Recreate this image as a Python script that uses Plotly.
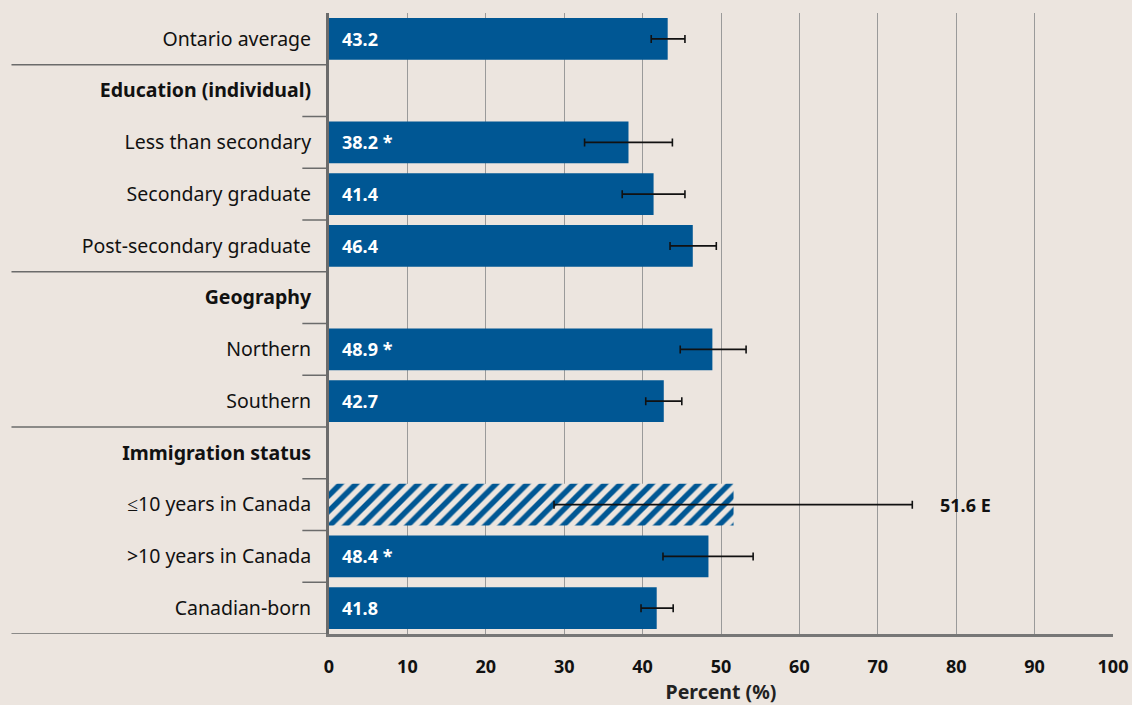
import plotly.graph_objects as go

# ---- data ----
categories = ["Ontario average", "Education (individual)", "Less than secondary",
              "Secondary graduate", "Post-secondary graduate", "Geography",
              "Northern", "Southern", "Immigration status",
              "≤10 years in Canada", ">10 years in Canada", "Canadian-born"]
is_header = [False, True, False, False, False, True, False, False, True, False, False, False]
values = [43.2, None, 38.2, 41.4, 46.4, None, 48.9, 42.7, None, 51.6, 48.4, 41.8]
ci_low = [41.1, None, 32.6, 37.4, 43.5, None, 44.8, 40.4, None, 28.7, 42.6, 39.8]
ci_high = [45.4, None, 43.8, 45.4, 49.4, None, 53.2, 45.0, None, 74.4, 54.1, 43.9]
flags = ["", None, " *", "", "", None, " *", "", None, " E", " *", ""]
hatched = [False, None, False, False, False, None, False, False, None, True, False, False]
x_ticks = [0, 10, 20, 30, 40, 50, 60, 70, 80, 90, 100]

BG = "#ECE5DF"
BLUE = "#005794"
FONT = "Noto Sans"

idx = [i for i, v in enumerate(values) if v is not None]
ys = idx
xs = [values[i] for i in idx]
err_plus = [ci_high[i] - values[i] for i in idx]
err_minus = [values[i] - ci_low[i] for i in idx]
shapes_pat = ["/" if hatched[i] else "" for i in idx]

fig = go.Figure()
fig.add_trace(go.Bar(
    x=xs, y=ys, orientation="h", width=0.81,
    marker=dict(color=BLUE, line=dict(width=0),
                pattern=dict(shape=shapes_pat, fgcolor=BLUE, bgcolor=BG, fgopacity=1,
                             size=11, solidity=0.5)),
    error_x=dict(type="data", array=err_plus, arrayminus=err_minus,
                 color="#111111", thickness=1.6, width=4),
    hoverinfo="skip", showlegend=False,
))

annotations = []
for i in idx:
    label = f"{values[i]:.1f}{flags[i]}"
    if hatched[i]:
        annotations.append(dict(x=ci_high[i], y=i, xref="x", yref="y", text=f"<b>{label}</b>",
                                showarrow=False, xanchor="left", xshift=26,
                                font=dict(family=FONT, size=18, color="#111111")))
    else:
        annotations.append(dict(x=0, y=i, xref="x", yref="y", text=f"<b>{label}</b>",
                                showarrow=False, xanchor="left", xshift=11,
                                font=dict(family=FONT, size=18, color="white")))

# separator lines in the label column
shapes = []
n = len(categories)
for b in range(n):
    yb = b + 0.5
    nxt = b + 1
    if nxt >= n or is_header[nxt]:
        x0 = -0.405
    else:
        x0 = -0.034
    shapes.append(dict(type="line", xref="paper", yref="y", x0=x0, x1=0, y0=yb, y1=yb,
                       line=dict(color="#6b6b6b", width=1.5), layer="above"))

ticktext = [f"<b>{c}</b>" if h else c for c, h in zip(categories, is_header)]

fig.update_layout(
    width=1132, height=705,
    paper_bgcolor=BG, plot_bgcolor=BG,
    margin=dict(l=329, r=19, t=13, b=71, autoexpand=False),
    font=dict(family=FONT, color="#111111"),
    shapes=shapes, annotations=annotations,
    xaxis=dict(range=[0, 100], tickvals=x_ticks, ticktext=[str(t) for t in x_ticks],
               automargin=False,
               showgrid=True, gridcolor="#9a9a9a", gridwidth=1,
               showline=True, linecolor="#777777", linewidth=3,
               zeroline=False, ticks="", ticklabelstandoff=14,
               tickfont=dict(family=FONT, size=18, weight="bold", color="#111111"),
               title=dict(text="<b>Percent (%)</b>", standoff=11,
                          font=dict(family=FONT, size=19.5, color="#222222"))),
    yaxis=dict(range=[n - 0.5, -0.5], tickvals=list(range(n)), ticktext=ticktext,
               automargin=False,
               showgrid=False, zeroline=False, showline=True, linecolor="#6b6b6b",
               linewidth=3, ticks="", ticklabelstandoff=11,
               tickfont=dict(family=FONT, size=19.5, color="#111111")),
)

fig.write_html("out.html", config={"displayModeBar": False},
               post_script="document.body.style.margin='0';document.body.style.overflow='hidden';")
